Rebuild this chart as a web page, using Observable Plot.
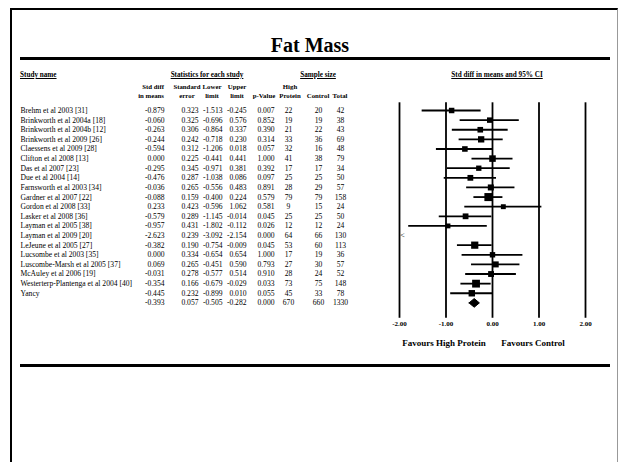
<!DOCTYPE html>
<html><head><meta charset="utf-8">
<script src="https://cdn.jsdelivr.net/npm/d3@7"></script>
<script src="https://cdn.jsdelivr.net/npm/@observablehq/plot@0.6"></script>
<style>
body{margin:0;background:#fff;}
#wrap{position:relative;width:620px;height:462px;overflow:hidden;font-family:"Liberation Serif","Times New Roman",serif;color:#000;background:#fff;}
.abs{position:absolute;white-space:nowrap;}
.c{transform:translateX(-50%);text-align:center;}
.hdr{font-weight:bold;font-size:7.2px;text-decoration:underline;line-height:8px;}
.sub{font-weight:bold;font-size:6.8px;line-height:9px;}
#plot{position:absolute;left:0;top:0;}
</style></head><body>
<div id="wrap">
  <div class="abs" style="left:10px;top:8px;width:605px;height:460px;border-left:2px solid #000;border-top:2px solid #000;border-right:1px solid #999;"></div>
  <div class="abs c" style="left:310px;top:34px;font-size:20px;line-height:22px;font-weight:bold;">Fat Mass</div>
  <div class="abs" style="left:20px;top:57px;width:590px;height:3px;background:#000;"></div>
  <div class="abs" style="left:20px;top:364px;width:590px;height:3px;background:#000;"></div>
  <div id="headers"></div>
  <div id="plot"></div>
</div>
<script>
// ---- data ----
const studyNames = ["Brehm et al 2003 [31]","Brinkworth et al 2004a [18]","Brinkworth et al 2004b [12]","Brinkworth et al 2009 [26]","Claessens et al 2009 [28]","Clifton et al 2008 [13]","Das et al 2007 [23]","Due et al 2004 [14]","Farnsworth et al 2003 [34]","Gardner et al 2007 [22]","Gordon et al 2008 [33]","Lasker et al 2008 [36]","Layman et al 2005 [38]","Layman et al 2009 [20]","LeJeune et al 2005 [27]","Lucsombe et al 2003 [35]","Luscombe-Marsh et al 2005 [37]","McAuley et al 2006 [19]","Westerterp-Plantenga et al 2004 [40]","Yancy"];
const stdDiff = [-0.879,-0.060,-0.263,-0.244,-0.594,0.000,-0.295,-0.476,-0.036,-0.088,0.233,-0.579,-0.957,-2.623,-0.382,0.000,0.069,-0.031,-0.354,-0.445];
const stdErr = [0.323,0.325,0.306,0.242,0.312,0.225,0.345,0.287,0.265,0.159,0.423,0.289,0.431,0.239,0.190,0.334,0.265,0.278,0.166,0.232];
const lowerLimit = [-1.513,-0.696,-0.864,-0.718,-1.206,-0.441,-0.971,-1.038,-0.556,-0.400,-0.596,-1.145,-1.802,-3.092,-0.754,-0.654,-0.451,-0.577,-0.679,-0.899];
const upperLimit = [-0.245,0.576,0.337,0.230,0.018,0.441,0.381,0.086,0.483,0.224,1.062,-0.014,-0.112,-2.154,-0.009,0.654,0.590,0.514,-0.029,0.010];
const pValue = [0.007,0.852,0.390,0.314,0.057,1.000,0.392,0.097,0.891,0.579,0.581,0.045,0.026,0.000,0.045,1.000,0.793,0.910,0.033,0.055];
const highProtein = [22,19,21,33,32,41,17,25,28,79,9,25,12,64,53,17,27,28,73,45];
const control = [20,19,22,36,16,38,17,25,29,79,15,25,12,66,60,19,30,24,75,33];
const total = [42,38,43,69,48,79,34,50,57,158,24,50,24,130,113,36,57,52,148,78];
const summary = {sdm:-0.393, se:0.057, lo:-0.505, hi:-0.282, p:0.000, hp:670, ct:660, tot:1330};
const xTicks = [-2,-1,0,1,2];
const headerTop = ["Study name","Statistics for each study","Sample size","Std diff in means and 95% CI"];
const favours = ["Favours High Protein","Favours Control"];

// ---- headers (HTML text) ----
const H = document.getElementById("headers");
function add(html, cls, style){const d=document.createElement("div");d.className="abs "+cls;d.setAttribute("style",style);d.innerHTML=html;H.appendChild(d);}
add(headerTop[0],"hdr","left:20px;top:71px;");
add(headerTop[1],"hdr c","left:207px;top:71px;");
add(headerTop[2],"hdr c","left:318px;top:71px;");
add(headerTop[3],"hdr c","left:497px;top:71px;");
const subs = [["Std diff<br>in means","right",164],["Standard<br>error","c",187],["Lower<br>limit","c",212],["Upper<br>limit","c",237],["&nbsp;<br>p-Value","c",264],["High<br>Protein","c",290],["&nbsp;<br>Control","c",318],["&nbsp;<br>Total","c",340]];
subs.forEach(([t,al,x])=>{
  if(al==="right") add(t,"sub","right:"+(620-x)+"px;top:82px;text-align:right;");
  else add(t,"sub c","left:"+x+"px;top:82px;");
});
add(favours[0],"sub c","left:444px;top:338px;font-size:9px;line-height:11px;");
add(favours[1],"sub c","left:533px;top:338px;font-size:9px;line-height:11px;");

// ---- plot ----
const rows = studyNames.map((name,i)=>({i,name,sdm:stdDiff[i],se:stdErr[i],lo:lowerLimit[i],hi:upperLimit[i],p:pValue[i],hp:highProtein[i],ct:control[i],tot:total[i]}));
const sumRow = Object.assign({i:rows.length,name:""}, summary);
const all = [...rows, sumRow];
const shown = rows.filter(d=>d.hi>=-2 && d.lo<=2);
const offLeft = rows.filter(d=>d.hi<-2);
const S = sumRow.i;
const diamond = [{x:summary.lo,y:S},{x:summary.sdm,y:S-0.45},{x:summary.hi,y:S},{x:summary.sdm,y:S+0.45},{x:summary.lo,y:S}];
const f3 = v=>v.toFixed(3);
const cols = [
  {t:d=>f3(d.sdm), x:164, a:"end"},
  {t:d=>f3(d.se), x:198, a:"end"},
  {t:d=>f3(d.lo), x:222, a:"end"},
  {t:d=>f3(d.hi), x:246, a:"end"},
  {t:d=>f3(d.p), x:274, a:"end"},
  {t:d=>String(d.hp), x:288, a:"middle"},
  {t:d=>String(d.ct), x:318, a:"middle"},
  {t:d=>String(d.tot), x:340, a:"middle"}
];
const FS = 7.6;
const marks = [
  Plot.text(rows,{y:"i",text:"name",frameAnchor:"left",dx:20,textAnchor:"start",fontSize:FS}),
  ...cols.map(c=>Plot.text(all,{y:"i",text:c.t,frameAnchor:"left",dx:c.x,textAnchor:c.a,fontSize:FS})),
  Plot.ruleX(xTicks,{y1:-0.8,y2:21.6,stroke:"#000",strokeWidth:1.8}),
  Plot.ruleY(shown,{y:"i",x1:d=>Math.max(d.lo,-2),x2:d=>Math.min(d.hi,2),stroke:"#000",strokeWidth:1.8}),
  Plot.dot(shown,{x:"sdm",y:"i",symbol:"square",r:d=>(3+0.8/d.se)/1.772,fill:"#000",stroke:null}),
  Plot.text(offLeft,{x:()=>-2,y:"i",text:()=>"<",dx:3,fontSize:8}),
  Plot.line(diamond,{x:"x",y:"y",fill:"#000",stroke:"#000",strokeWidth:1}),
  Plot.axisX({ticks:xTicks,tickFormat:d=>d.toFixed(2),tickSize:0,tickPadding:1,fontWeight:"bold",fontSize:7})
];
const chart = Plot.plot({
  width:620, height:330,
  marginLeft:0, marginRight:0, marginTop:0, marginBottom:10,
  style:{fontFamily:"'Liberation Serif','Times New Roman',serif",background:"transparent",color:"#000"},
  x:{domain:[-2,2],range:[399,585]},
  y:{domain:[0,21],range:[110,312],axis:null},
  r:{type:"linear",domain:[0,10],range:[0,10]},
  marks
});
document.getElementById("plot").appendChild(chart);
</script>
</body></html>
